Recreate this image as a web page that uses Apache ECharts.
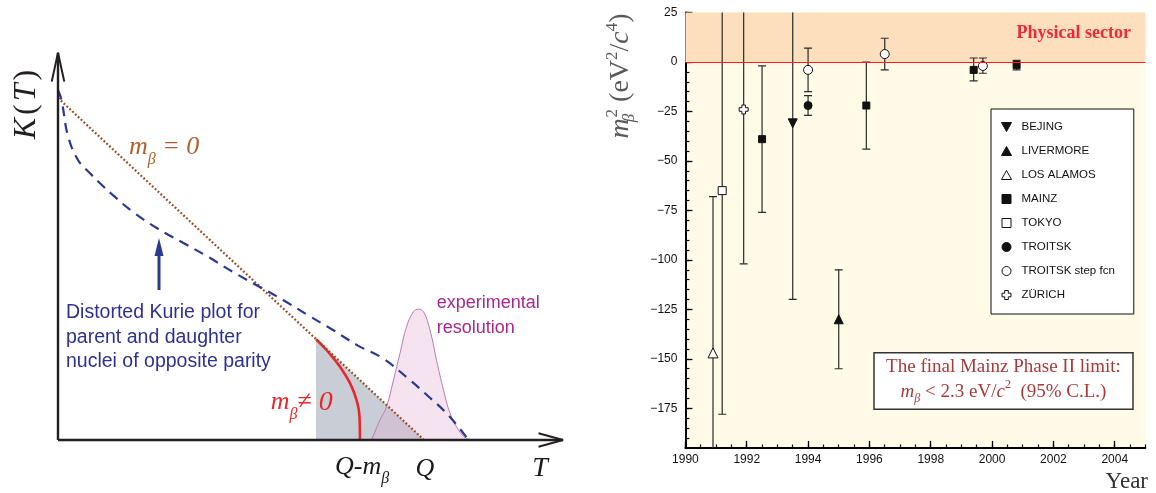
<!DOCTYPE html>
<html>
<head>
<meta charset="utf-8">
<script src="https://cdn.jsdelivr.net/npm/echarts@6.0.0/dist/echarts.min.js"></script>
<style>
  html, body { margin: 0; padding: 0; background: #ffffff; }
  #chart { width: 1156px; height: 493px; }
</style>
</head>
<body>
<div id="chart"></div>
<script>
// ---------- Right panel: measured m_beta^2 by year ----------
const experiments = ['BEJING', 'LIVERMORE', 'LOS ALAMOS', 'MAINZ', 'TOKYO', 'TROITSK', 'TROITSK step fcn', 'ZÜRICH'];
const pointExperiment = ['LOS ALAMOS', 'TOKYO', 'ZÜRICH', 'MAINZ', 'BEJING', 'TROITSK step fcn', 'TROITSK',
                         'LIVERMORE', 'MAINZ', 'TROITSK step fcn', 'MAINZ', 'TROITSK step fcn', 'MAINZ'];
const pointYear  = [1990.9, 1991.2, 1991.9, 1992.5, 1993.5, 1994.0, 1994.0, 1995.0, 1995.9, 1996.5, 1999.4, 1999.7, 2000.8];
const pointMass2 = [-147, -65, -24, -39, -31, -4, -22, -130, -22, 4, -4, -2, -1.5];
const errLow     = [-230, -178, -102, -76, -120, -15, -27, -155, -44, -4, -9.5, -5.7, -4];
const errHigh    = [-68, 60, 60, -2, 60, 7, -17, -105, 0, 12, 2, 2, 0.8];

const yearTicks = [1990, 1992, 1994, 1996, 1998, 2000, 2002, 2004];
const massTicks = [25, 0, -25, -50, -75, -100, -125, -150, -175];
const yearMinorTicks = [];
for (let y = 1990; y <= 2005; y += 0.5) yearMinorTicks.push(y);
const massMinorTicks = [];
for (let m = 25; m >= -195; m -= 5) massMinorTicks.push(m);

// ---------- Left panel: schematic Kurie plot (arbitrary units) ----------
const kurieT = [0, 0.7, 2, 4, 6.4, 8.4, 11, 15, 20, 25, 30, 35, 40, 45, 50, 55, 60, 65, 70, 74, 78, 82];
const kurieK = [87.5, 85, 76, 70, 66.7, 64.2, 61.2, 57, 52.8, 49.3, 45.8, 42, 38.5, 35, 31.2, 27.5, 23.6, 20.4, 15.4, 11, 6.3, 0.2];
const masslessT = [0, 73.2];
const masslessK = [85.5, 0];
const massiveT = [51.6, 53.7, 56.4, 58.4, 59.7, 60.3, 60.4];
const massiveK = [25.2, 22.5, 18.3, 14.2, 10, 5.8, 0];
const endpointT = [51.6, 73.2];
const endpointK = [25.2, 0];
const resolutionT = [62.7, 64.4, 65.7, 67.1, 68.4, 69.7, 71.1, 72.1, 73.1, 74.4, 75.7, 77.1, 78.4, 80.1, 81.7, 83.4];
const resolutionK = [0, 5, 8.3, 15, 21.7, 28.3, 32.1, 32.7, 32.1, 27.5, 20, 12.5, 6.7, 2.5, 0.4, 0];
const axisT = [0, 101];
const axisK = [0, 96.8];
const arrowT = [20.2, 20.2];
const arrowK = [37.5, 46];

const zip = (a, b) => a.map((v, i) => [v, b[i]]);

const serif = "'Liberation Serif', 'DejaVu Serif', serif";
const sans = "'Liberation Sans', Arial, sans-serif";

// marker look for each experiment
const squarePath = 'path://M0,0L10,0L10,10L0,10Z';
const markerStyle = {
  'BEJING':           { symbol: 'path://M0,0L10,0L5,9Z', size: 9, fill: '#111' },
  'LIVERMORE':        { symbol: 'path://M5,0L10,9L0,9Z', size: 9, fill: '#111' },
  'LOS ALAMOS':       { symbol: 'path://M5,0L10,9L0,9Z', size: 10, fill: '#fff' },
  'MAINZ':            { symbol: squarePath, size: 7, fill: '#111' },
  'TOKYO':            { symbol: squarePath, size: 8, fill: '#fff' },
  'TROITSK':          { symbol: 'circle', size: 8, fill: '#111' },
  'TROITSK step fcn': { symbol: 'circle', size: 9, fill: '#fff' },
  'ZÜRICH':           { symbol: 'path://M3,0L7,0L7,3L10,3L10,7L7,7L7,10L3,10L3,7L0,7L0,3L3,3Z', size: 9, fill: '#fff' }
};

const scatterSeries = experiments.map(name => ({
  name: name,
  type: 'scatter',
  xAxisIndex: 0, yAxisIndex: 0,
  symbol: markerStyle[name].symbol,
  symbolSize: markerStyle[name].size,
  itemStyle: { color: markerStyle[name].fill, borderColor: '#111', borderWidth: 1, opacity: 1 },
  data: pointYear.map((y, i) => [y, pointMass2[i], pointExperiment[i]]).filter(d => d[2] === name).map(d => [d[0], d[1]]),
  z: 4,
  silent: true
}));

function renderErrorBar(params, api) {
  const x = api.value(0);
  const lo = api.coord([x, api.value(1)]);
  const hi = api.coord([x, api.value(2)]);
  const cap = 4;
  const st = { stroke: '#2a2a2a', lineWidth: 1.2 };
  return {
    type: 'group',
    children: [
      { type: 'line', shape: { x1: lo[0], y1: lo[1], x2: hi[0], y2: hi[1] }, style: st },
      { type: 'line', shape: { x1: lo[0] - cap, y1: lo[1], x2: lo[0] + cap, y2: lo[1] }, style: st },
      { type: 'line', shape: { x1: hi[0] - cap, y1: hi[1], x2: hi[0] + cap, y2: hi[1] }, style: st }
    ]
  };
}

const leftLine = (extra) => Object.assign({
  type: 'line', xAxisIndex: 2, yAxisIndex: 2, symbol: 'none', silent: true, clip: false, animation: false
}, extra);

const option = {
  animation: false,
  backgroundColor: '#ffffff',
  grid: [
    { left: 685.4, top: 12.5, width: 460, height: 435.4, show: true, backgroundColor: '#fffbe6', borderWidth: 0 },
    { left: 33, top: 40, width: 550, height: 440, show: false }
  ],
  xAxis: [
    {
      gridIndex: 0, type: 'value', min: 1990, max: 2005, position: 'bottom',
      axisLine: { show: true, onZero: false, lineStyle: { color: '#000', width: 2 } },
      axisTick: { show: true, inside: true, length: 7, customValues: yearTicks, lineStyle: { color: '#000', width: 1.3 } },
      axisLabel: { show: true, customValues: yearTicks, margin: 6, fontSize: 12, fontFamily: sans, color: '#111',
                   formatter: v => String(v) },
      splitLine: { show: false }
    },
    {
      gridIndex: 0, type: 'value', min: 1990, max: 2005, position: 'bottom',
      axisLine: { show: false, onZero: false },
      axisTick: { show: true, inside: true, length: 3.5, customValues: yearMinorTicks, lineStyle: { color: '#000', width: 1.2 } },
      axisLabel: { show: false },
      splitLine: { show: false }
    },
    { gridIndex: 1, type: 'value', min: -5, max: 105, show: false, splitLine: { show: false } }
  ],
  yAxis: [
    {
      gridIndex: 0, type: 'value', min: -195, max: 25, position: 'left',
      axisLine: { show: true, onZero: false, lineStyle: { color: '#000', width: 2 } },
      axisTick: { show: true, inside: true, length: 7, customValues: massTicks, lineStyle: { color: '#000', width: 1.3 } },
      axisLabel: {
        show: true, customValues: massTicks, margin: 8, fontSize: 12, fontFamily: sans, color: '#111',
        formatter: v => (v < 0 ? '\u2212' + (-v) : String(v))
      },
      splitLine: { show: false }
    },
    {
      gridIndex: 0, type: 'value', min: -195, max: 25, position: 'left',
      axisLine: { show: false, onZero: false },
      axisTick: { show: true, inside: true, length: 4, customValues: massMinorTicks, lineStyle: { color: '#000', width: 1.2 } },
      axisLabel: { show: false },
      splitLine: { show: false }
    },
    { gridIndex: 1, type: 'value', min: -10, max: 100, show: false, splitLine: { show: false } }
  ],
  legend: {
    data: experiments,
    orient: 'vertical',
    left: 991, top: 109,
    itemWidth: 20, itemHeight: 9, itemGap: 10,
    padding: [11, 19, 12, 10],
    backgroundColor: '#ffffff',
    borderColor: '#111', borderWidth: 1, borderRadius: 0,
    itemStyle: { borderWidth: 1 },
    textStyle: { fontFamily: sans, fontSize: 11.5, color: '#111', lineHeight: 14 },
    selectedMode: false
  },
  series: [
    {
      name: 'sector', type: 'line', xAxisIndex: 0, yAxisIndex: 0, data: [], silent: true, z: 1,
      markArea: { silent: true, itemStyle: { color: '#fddfbe', opacity: 1 }, data: [[{ yAxis: 0 }, { yAxis: 25 }]] },
      markLine: {
        silent: true, symbol: 'none', label: { show: false },
        lineStyle: { color: '#ff2020', width: 1, type: 'solid' },
        data: [{ yAxis: 0 }]
      }
    },
    {
      name: 'errors', type: 'custom', xAxisIndex: 0, yAxisIndex: 0,
      renderItem: renderErrorBar,
      data: pointYear.map((y, i) => [y, errLow[i], errHigh[i]]),
      encode: { x: 0, y: [1, 2] },
      clip: true, silent: true, z: 3
    },
    ...scatterSeries,

    // schematic Kurie plot
    leftLine({ name: 'endpoint region', data: zip(endpointT, endpointK), lineStyle: { width: 0 },
               areaStyle: { color: '#c9ced6', opacity: 1 }, z: 1 }),
    leftLine({ name: 'resolution', data: zip(resolutionT, resolutionK), smooth: 0.4,
               lineStyle: { color: '#b97db6', width: 1 },
               areaStyle: { color: 'rgb(225,168,205)', opacity: 0.32 }, z: 2 }),
    leftLine({ name: 'massive', data: zip(massiveT, massiveK), smooth: 0.5,
               lineStyle: { color: '#e8262b', width: 2.6 }, z: 3 }),
    leftLine({ name: 'massless', data: zip(masslessT, masslessK),
               lineStyle: { color: '#9a4a1e', width: 2.2, type: [1.8, 2.1] }, z: 4 }),
    leftLine({ name: 'distorted', data: zip(kurieT, kurieK), smooth: 0.4,
               lineStyle: { color: '#2b3990', width: 2.2, type: [10, 7] }, z: 5 }),
    leftLine({ name: 'T axis', data: [[axisT[0], 0], [axisT[1], 0]], lineStyle: { color: '#231f20', width: 2.4 }, z: 6 }),
    leftLine({ name: 'T arrow', data: [[axisT[1] - 4.9, 1.7], [axisT[1], 0], [axisT[1] - 4.9, -1.7]],
               lineStyle: { color: '#231f20', width: 2 }, z: 6 }),
    leftLine({ name: 'K axis', data: [[0, axisK[0]], [0, axisK[1]]], lineStyle: { color: '#231f20', width: 2.4 }, z: 6 }),
    leftLine({ name: 'K arrow', data: [[-1.26, axisK[1] - 7.2], [0, axisK[1]], [1.26, axisK[1] - 7.2]],
               lineStyle: { color: '#231f20', width: 2 }, z: 6 }),
    leftLine({ name: 'pointer', data: [[arrowT[0], arrowK[0]],
               { value: [arrowT[1], arrowK[1]], symbol: 'triangle', symbolSize: [9, 18], symbolOffset: [0, -9] }],
               showSymbol: true, itemStyle: { color: '#2b3990' },
               lineStyle: { color: '#2b3990', width: 3 }, z: 6 })
  ],
  graphic: [
    // left panel labels
    {
      type: 'text', x: 27, y: 103, rotation: Math.PI / 2, z: 20,
      style: {
        text: '{i|K}{u|(}{i|T}{u|)}', align: 'center', verticalAlign: 'middle',
        rich: {
          i: { fontFamily: serif, fontStyle: 'italic', fontSize: 32, fill: '#231f20' },
          u: { fontFamily: serif, fontSize: 32, fill: '#231f20', padding: [0, 3, 0, 3] }
        }
      }
    },
    {
      type: 'text', x: 129, y: 147.5, z: 20,
      style: {
        text: '{m|m}{b|β}{t| = 0}', align: 'left', verticalAlign: 'middle',
        rich: {
          m: { fontFamily: serif, fontStyle: 'italic', fontSize: 26, lineHeight: 40, fill: '#b0602c' },
          b: { fontFamily: serif, fontStyle: 'italic', fontSize: 16, lineHeight: 16, verticalAlign: 'bottom', fill: '#b0602c' },
          t: { fontFamily: serif, fontStyle: 'italic', fontSize: 26, lineHeight: 40, fill: '#b0602c' }
        }
      }
    },
    {
      type: 'text', x: 270.7, y: 402.5, z: 20,
      style: {
        text: '{m|m}{b|β}{t|≠}{z| 0}', align: 'left', verticalAlign: 'middle',
        rich: {
          m: { fontFamily: serif, fontStyle: 'italic', fontSize: 26, lineHeight: 40, fill: '#e8262b' },
          b: { fontFamily: serif, fontStyle: 'italic', fontSize: 16, lineHeight: 16, verticalAlign: 'bottom', fill: '#e8262b' },
          t: { fontFamily: serif, fontSize: 26, lineHeight: 40, fill: '#e8262b' },
          z: { fontFamily: serif, fontStyle: 'italic', fontSize: 28, lineHeight: 40, fill: '#e8262b' }
        }
      }
    },
    {
      type: 'text', x: 335, y: 467, z: 20,
      style: {
        text: '{t|Q-m}{b|β}', align: 'left', verticalAlign: 'middle',
        rich: {
          t: { fontFamily: serif, fontStyle: 'italic', fontSize: 26, lineHeight: 40, fill: '#1a1a1a' },
          b: { fontFamily: serif, fontStyle: 'italic', fontSize: 16, lineHeight: 16, verticalAlign: 'bottom', fill: '#1a1a1a' }
        }
      }
    },
    {
      type: 'text', x: 425, y: 469, z: 20,
      style: { text: 'Q', align: 'center', verticalAlign: 'middle', fontFamily: serif, fontStyle: 'italic', fontSize: 26, fill: '#1a1a1a' }
    },
    {
      type: 'text', x: 540, y: 469, z: 20,
      style: { text: 'T', align: 'center', verticalAlign: 'middle', fontFamily: serif, fontStyle: 'italic', fontSize: 28, fill: '#1a1a1a' }
    },
    {
      type: 'text', x: 66, y: 300.5, z: 20,
      style: {
        text: 'Distorted Kurie plot for\nparent and daughter\nnuclei of opposite parity',
        align: 'left', verticalAlign: 'top', fontFamily: sans, fontSize: 19.5, lineHeight: 24.5, fill: '#2e3192'
      }
    },
    {
      type: 'text', x: 436.7, y: 289.9, z: 20,
      style: {
        text: 'experimental\nresolution', align: 'left', verticalAlign: 'top',
        fontFamily: sans, fontSize: 18, lineHeight: 25.6, fill: '#a6288f'
      }
    },

    // right panel labels
    {
      type: 'text', x: 621, y: 76, rotation: Math.PI / 2, z: 20,
      style: {
        text: '{m|m}{b|β}{p|2}{t| (eV}{p|2}{t|/}{m|c}{p|4}{t|)}', align: 'center', verticalAlign: 'middle',
        rich: {
          m: { fontFamily: serif, fontStyle: 'italic', fontSize: 28, lineHeight: 34, fill: '#5a5a5a' },
          t: { fontFamily: serif, fontSize: 28, lineHeight: 34, fill: '#5a5a5a' },
          p: { fontFamily: serif, fontSize: 17, lineHeight: 17, verticalAlign: 'top', fill: '#5a5a5a' },
          b: { fontFamily: serif, fontStyle: 'italic', fontSize: 17, lineHeight: 17, verticalAlign: 'bottom', fill: '#5a5a5a', width: 1 }
        }
      }
    },
    {
      type: 'text', x: 1148, y: 481.7, z: 20,
      style: { text: 'Year', align: 'right', verticalAlign: 'middle', fontFamily: serif, fontSize: 23, fill: '#333' }
    },
    {
      type: 'text', x: 1131, y: 33.3, z: 20,
      style: { text: 'Physical sector', align: 'right', verticalAlign: 'middle', fontFamily: serif, fontWeight: 'bold', fontSize: 18, fill: '#ee2a35' }
    },
    {
      type: 'rect', z: 20,
      shape: { x: 874, y: 352.7, width: 259, height: 56.6 },
      style: { fill: '#ffffff', stroke: '#333', lineWidth: 1.5 }
    },
    {
      type: 'text', x: 1003.5, y: 367.3, z: 21,
      style: { text: 'The final Mainz Phase II limit:', align: 'center', verticalAlign: 'middle', fontFamily: serif, fontSize: 19, fill: '#a93a3a' }
    },
    {
      type: 'text', x: 1003.5, y: 391.7, z: 21,
      style: {
        text: '{m|m}{b|β}{t| < 2.3 eV/}{m|c}{p|2}{t|  (95% C.L.)}', align: 'center', verticalAlign: 'middle',
        rich: {
          m: { fontFamily: serif, fontStyle: 'italic', fontSize: 19, lineHeight: 26, fill: '#a93a3a' },
          t: { fontFamily: serif, fontSize: 19, lineHeight: 26, fill: '#a93a3a' },
          p: { fontFamily: serif, fontSize: 12, lineHeight: 12, verticalAlign: 'top', fill: '#a93a3a' },
          b: { fontFamily: serif, fontStyle: 'italic', fontSize: 12, lineHeight: 12, verticalAlign: 'bottom', fill: '#a93a3a' }
        }
      }
    }
  ]
};

const chart = echarts.init(document.getElementById('chart'), null, { renderer: 'canvas' });
chart.setOption(option);
</script>
</body>
</html>
